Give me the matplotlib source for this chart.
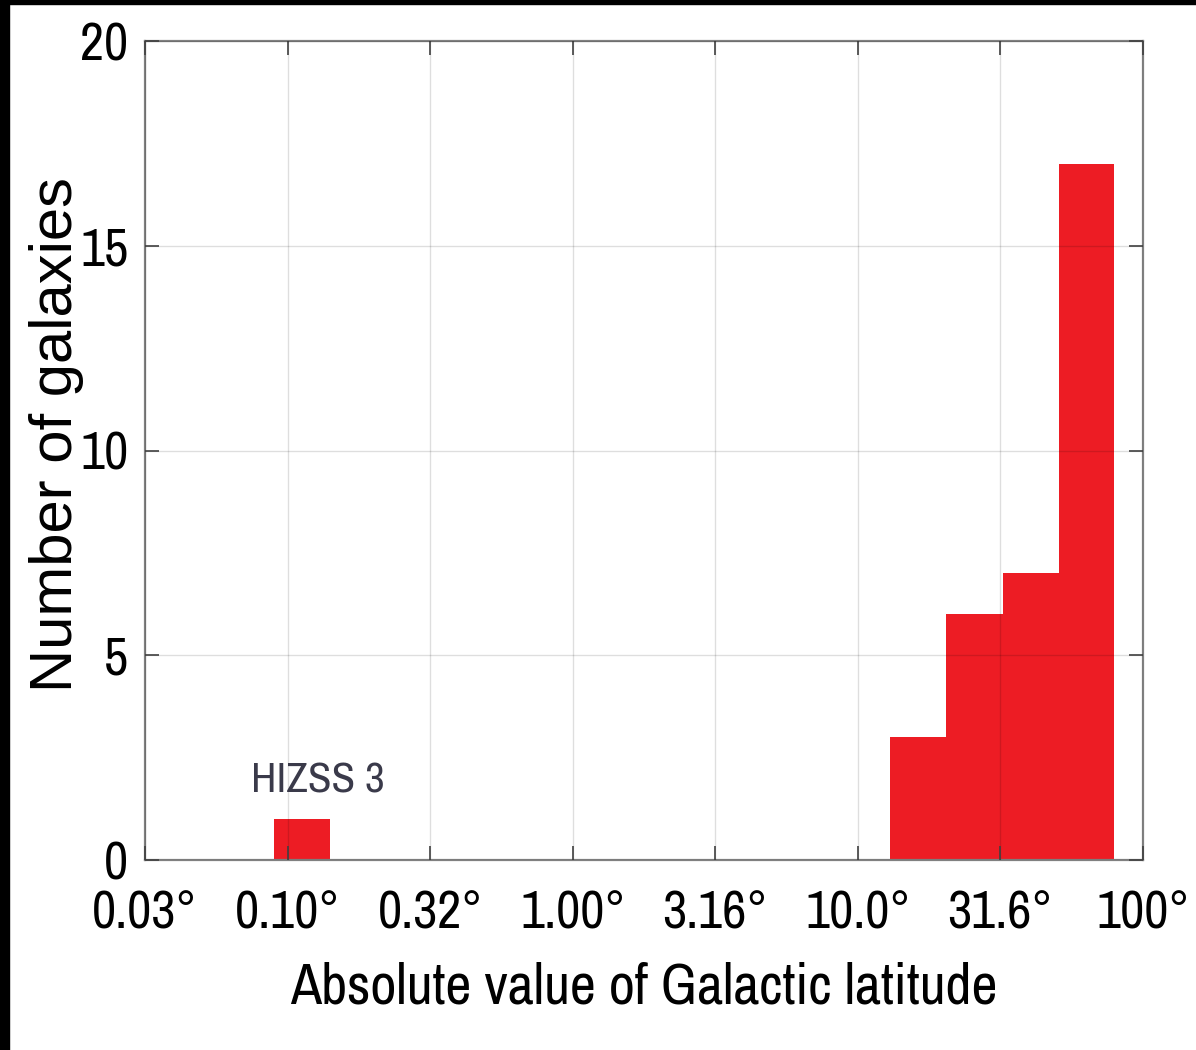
import matplotlib
matplotlib.use("Agg")
import matplotlib.pyplot as plt
from matplotlib.patches import Rectangle

# histogram of |b| for the galaxy sample (log-spaced bins, only non-empty bins listed)
binLeft = [0.0897, 13.0, 20.45, 32.2, 50.6]
binRight = [0.141, 20.45, 32.2, 50.6, 79.4]
counts = [1, 3, 6, 7, 17]

tickVals = [0.0316, 0.1, 0.316, 1.0, 3.16, 10.0, 31.6, 100.0]
tickLabels = ["0.03°", "0.10°", "0.32°", "1.00°", "3.16°", "10.0°", "31.6°", "100°"]
yTicks = [0, 5, 10, 15, 20]

narrow = ["Archivo Narrow", "Liberation Sans", "DejaVu Sans"]
regular = ["Liberation Sans", "DejaVu Sans"]
plt.rcParams["font.family"] = narrow

fig = plt.figure(figsize=(11.96, 10.5), dpi=100)
ax = fig.add_axes([145/1196, 1 - 860/1050, 998/1196, 819/1050])

widths = [r - l for l, r in zip(binLeft, binRight)]
ax.bar(binLeft, counts, width=widths, align="edge", color="#ED1C24", linewidth=0, zorder=1)

ax.set_xscale("log")
ax.set_xlim(0.0316, 100)
ax.set_ylim(0, 20)
ax.set_xticks(tickVals)
ax.set_xticklabels(tickLabels)
ax.minorticks_off()
ax.set_yticks(yTicks)

ax.grid(True, color="k", alpha=0.13, linewidth=1.0, zorder=2)
ax.set_axisbelow(False)
for s in ax.spines.values():
    s.set_color("#808080")
    s.set_linewidth(1.6)
ax.tick_params(direction="in", length=10, width=1.2, color="#404040",
               top=True, right=True, labelsize=38)
ax.tick_params(axis="x", pad=21)
ax.tick_params(axis="y", pad=12)

ax.set_xlabel("Absolute value of Galactic latitude", fontsize=41)
ax.xaxis.set_label_coords(0.5, -0.124)
ax.set_ylabel("Number of galaxies", fontsize=43, family=regular)
ax.yaxis.set_label_coords(-0.061, 0.52)

ax.text(0.128, 1.95, "HIZSS 3", ha="center", va="center", fontsize=31, color="#3a3a4a")

# black frame strips at the image edge
fig.patches.append(Rectangle((0, 0), 9/1196, 1, transform=fig.transFigure, color="k", zorder=10))
fig.patches.append(Rectangle((0, 1 - 4/1050), 1, 4/1050, transform=fig.transFigure, color="k", zorder=10))

fig.savefig("out.png", dpi=100)
